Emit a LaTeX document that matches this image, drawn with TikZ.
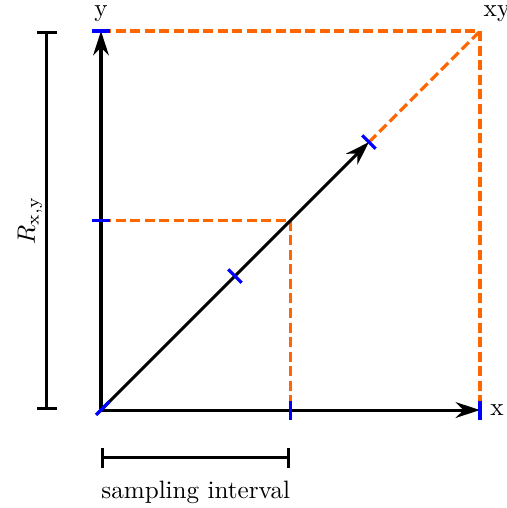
\documentclass[tikz,border=0pt]{standalone}
\usetikzlibrary{arrows.meta}
\definecolor{guideorange}{RGB}{255,102,0}
\begin{document}
\begin{tikzpicture}[
        x=2.65cm, y=2.65cm,
        axis/.style={line width=1.2pt, -{Stealth[length=0.34cm, width=0.22cm]}},
        guide/.style={line width=1.25pt, guideorange, dash pattern=on 4pt off 1.8pt},
        tickmark/.style={line width=1.3pt, blue},
        span/.style={line width=1.2pt, {Bar[width=0.28cm]}-{Bar[width=0.28cm]}},
        lbl/.style={inner sep=0pt}
    ]
        \useasboundingbox (-0.533,-0.517) rectangle (2.142,2.164);

        % Points of the grid
        \coordinate (O) at (0,0);
        \coordinate (X) at (2,0);
        \coordinate (Y) at (0,2);
        \coordinate (XY) at (2,2);
        \coordinate (M) at (1,1);
        \coordinate (Mx) at (1,0);
        \coordinate (My) at (0,1);
        \coordinate (D1) at (45:1);
        \coordinate (D2) at (45:2);

        % Dashed guides
        \draw[guide] (Y) -- (XY) -- (X);
        \draw[guide] (D2) -- (XY);
        \draw[guide] (My) -- (M) -- (Mx);

        % Axes
        \draw[axis] (O) -- (X);
        \draw[axis] (O) -- (Y);
        \draw[axis] (O) -- (D2);

        % Ticks
        \draw[tickmark] (Y) ++(-0.05,0) -- ++(0.1,0);
        \draw[tickmark] (My) ++(-0.05,0) -- ++(0.1,0);
        \draw[tickmark] (Mx) ++(0,-0.05) -- ++(0,0.1);
        \draw[tickmark] (X) ++(0,-0.05) -- ++(0,0.1);
        \draw[tickmark] (D1) ++(-45:0.05) -- ++(135:0.1);
        \draw[tickmark] (D2) ++(-45:0.05) -- ++(135:0.1);
        \draw[tickmark] (O) ++(225:0.037) -- ++(45:0.1);

        % Axis labels
        \node[lbl] (ylabel) at (0,2.09) {y};
        \node[lbl] (xlabel) at (2.09,0) {x};
        \node[lbl] (xylabel) at (2.09,2.09) {xy};

        % Range and interval
        \coordinate (L0) at (-0.285,0);
        \coordinate (L2) at (-0.285,2);
        \draw[span] (L0) -- (L2);
        \node[lbl, rotate=90] (rlabel) at (-0.375,1) {$R_{\mathrm{x,y}}$};

        \coordinate (B0) at (0,-0.253);
        \coordinate (B1) at (1,-0.253);
        \draw[span] (B0) -- (B1);
        \node[lbl] (interval) at (0.5,-0.433) {sampling interval};

    \end{tikzpicture}
\end{document}
